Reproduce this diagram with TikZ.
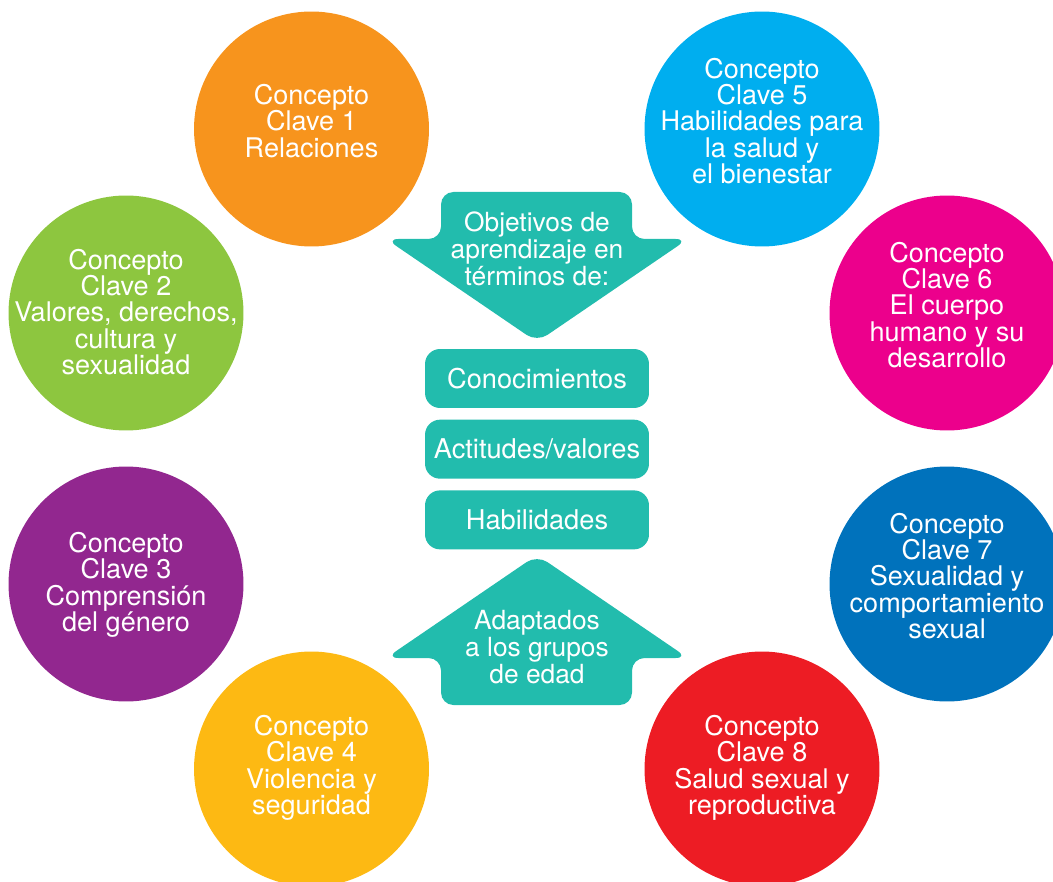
\documentclass[tikz,border=0pt]{standalone}
\usepackage{fontspec}
\setmainfont{TeX Gyre Heros}
\usepackage{xcolor}
\usepackage{tikz}
\usetikzlibrary{positioning}

\definecolor{cOrange}{HTML}{F7941D}
\definecolor{cGreen}{HTML}{8DC63F}
\definecolor{cPurple}{HTML}{92278F}
\definecolor{cYellow}{HTML}{FDB913}
\definecolor{cCyan}{HTML}{00AEEF}
\definecolor{cMagenta}{HTML}{EC008C}
\definecolor{cBlue}{HTML}{0072BC}
\definecolor{cRed}{HTML}{ED1C24}
\definecolor{uTeal}{HTML}{22BCAD}

\begin{document}
\begin{tikzpicture}[
  x=0.02cm, y=-0.02cm,
  concept/.style={
    circle,
    fill=#1,
    inner sep=0pt,
    minimum size=4.7cm
  },
  conctext/.style={text=white, align=center, font=\fontsize{15.4}{15}\selectfont},
  item/.style={
    rectangle,
    fill=uTeal,
    rounded corners=0.3cm,
    text=white,
    minimum width=4.48cm,
    minimum height=1.18cm,
    font=\fontsize{15.5}{15.4}\selectfont
  },
  arrowtext/.style={text=white, align=center, font=\fontsize{15}{15.2}\selectfont},
  bigarrow/.style={fill=uTeal, rounded corners=0.25cm}
]
\useasboundingbox (0,0) rectangle (1053,881);

% Flechas centrales
\fill[bigarrow] (441,192) -- (632,192) -- (632,239) -- (688,239)
  -- (537,342) -- (386,239) -- (441,239) -- cycle;
\fill[bigarrow] (441,705) -- (632,705) -- (632,658) -- (688,658)
  -- (537,555) -- (386,658) -- (441,658) -- cycle;

\node[arrowtext] (obj) at (537,249) {Objetivos de\\aprendizaje en\\términos de:};
\node[arrowtext] (adap) at (537,647) {Adaptados\\a los grupos\\de edad};

% Cajas del centro
\node[item] (cono) at (537,378.5) {Conocimientos};
\node[item, below=0.22cm of cono] (acti) {Actitudes/valores};
\node[item, below=0.22cm of acti] (habi) {Habilidades};

% Conceptos clave (izquierda)
\node[concept=cOrange] (c1) at (311.5,129) {};
\node[concept=cGreen] (c2) at (126,313) {};
\node[concept=cPurple] (c3) at (126,584) {};
\node[concept=cYellow] (c4) at (311.5,769) {};
\node[conctext] (t1) at (311.5,121) {Concepto\\Clave 1\\Relaciones};
\node[conctext] (t2) at (126,312) {Concepto\\Clave 2\\Valores, derechos,\\cultura y\\sexualidad};
\node[conctext] (t3) at (126,585) {Concepto\\Clave 3\\Comprensión\\del género};
\node[conctext] (t4) at (311.5,768) {Concepto\\Clave 4\\Violencia y\\seguridad};

% Conceptos clave (derecha)
\node[concept=cCyan] (c5) at (762,129) {};
\node[concept=cMagenta] (c6) at (947,313) {};
\node[concept=cBlue] (c7) at (947,584) {};
\node[concept=cRed] (c8) at (762,769) {};
\node[conctext] (t5) at (762,121) {Concepto\\Clave 5\\Habilidades para\\la salud y\\el bienestar};
\node[conctext] (t6) at (947,305) {Concepto\\Clave 6\\El cuerpo\\humano y su\\desarrollo};
\node[conctext] (t7) at (947,576) {Concepto\\Clave 7\\Sexualidad y\\comportamiento\\sexual};
\node[conctext] (t8) at (762,768) {Concepto\\Clave 8\\Salud sexual y\\reproductiva};

\end{tikzpicture}
\end{document}
